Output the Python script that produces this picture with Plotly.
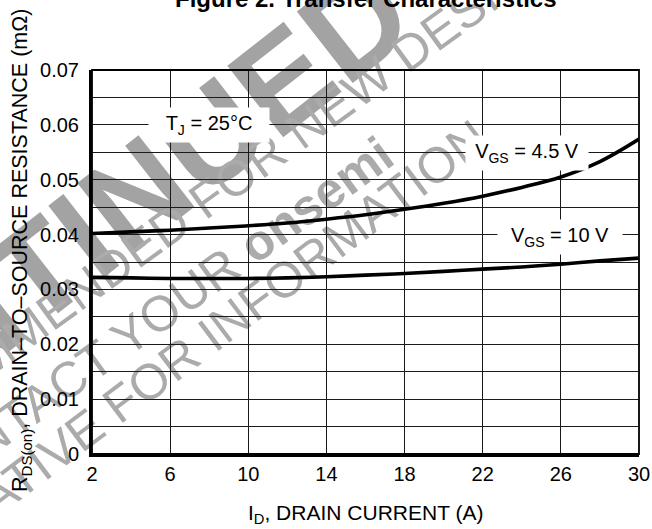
import math
import plotly.graph_objects as go

# ---------------- data ----------------
current_a = [2, 4, 6, 8, 10, 12, 14, 16, 18, 20, 22, 24, 26, 28, 30]
rds_vgs_4p5 = [0.0402, 0.0405, 0.0408, 0.0412, 0.0416, 0.0421, 0.0428, 0.0436,
               0.0446, 0.0457, 0.0470, 0.0486, 0.0505, 0.0533, 0.0574]
rds_vgs_10 = [0.0322, 0.0321, 0.0320, 0.0320, 0.0320, 0.0321, 0.0323, 0.0326,
              0.0329, 0.0333, 0.0337, 0.0341, 0.0346, 0.0352, 0.0357]

x_tick_start = 2
x_tick_step = 4
y_tick_vals = [0, 0.005, 0.01, 0.015, 0.02, 0.025, 0.03, 0.035,
               0.04, 0.045, 0.05, 0.055, 0.06, 0.065, 0.07]
y_tick_text = ["0", "", "0.01", "", "0.02", "", "0.03", "",
               "0.04", "", "0.05", "", "0.06", "", "0.07"]

title_text = "<b>Figure 2. Transfer Characteristics</b>"
x_title = "I<sub>D</sub>, DRAIN CURRENT (A)"
y_title = "R<sub>DS(on)</sub>, DRAIN\u2013TO\u2013SOURCE RESISTANCE (m\u03a9)"
label_tj = "T<sub>J</sub> = 25\u00b0C"
label_45 = "V<sub>GS</sub> = 4.5 V"
label_10 = "V<sub>GS</sub> = 10 V"

watermark_texts = ["<b>DISCONTINUED</b>",
                   "NOT RECOMMENDED FOR NEW DESIGNS",
                   "CONTACT YOUR <b>onsemi</b>",
                   "REPRESENTATIVE FOR INFORMATION"]

# ---------------- layout geometry ----------------
W, H = 652, 529
L, R, T, B = 92, 13, 70, 75
PW, PH = W - L - R, H - T - B
FONT = "Liberation Sans, Arial, Helvetica, sans-serif"


def px2x(px):
    return (px - L) / PW


def py2y(py):
    return (H - B - py) / PH


fig = go.Figure()
fig.add_trace(go.Scatter(x=current_a, y=rds_vgs_4p5, mode="lines",
                         line=dict(color="black", width=3.6, shape="spline"),
                         showlegend=False, hoverinfo="skip"))
fig.add_trace(go.Scatter(x=current_a, y=rds_vgs_10, mode="lines",
                         line=dict(color="black", width=3.6, shape="spline"),
                         showlegend=False, hoverinfo="skip"))

# ---------------- watermark (drawn below grid) ----------------
wm_specs = [((-11, 293), 38, 132, "#a3a3a3"),
            ((168, 221), 36, 50, "#ababab"),
            ((148, 316), 36, 50, "#ababab"),
            ((110, 405), 37, 50, "#ababab")]
shapes = []
for text, ((cx, cy), ang, size, col) in zip(watermark_texts, wm_specs):
    c, s = math.cos(math.radians(ang)), math.sin(math.radians(ang))
    d = 6
    shapes.append(dict(
        type="line", xref="paper", yref="paper", layer="below",
        x0=px2x(cx - d * c), y0=py2y(cy + d * s),
        x1=px2x(cx + d * c), y1=py2y(cy - d * s),
        line=dict(color="rgba(0,0,0,0)", width=0),
        label=dict(text=text, textangle=-ang, textposition="middle",
                   xanchor="center", yanchor="middle", padding=0,
                   font=dict(family=FONT, size=size, color=col)),
    ))

shapes.append(dict(type="rect", xref="paper", yref="paper", x0=0, y0=0, x1=1, y1=1,
                   line=dict(color="black", width=1.8), layer="above"))

annotations = [
    dict(text=title_text, xref="paper", yref="paper", x=0.5, y=py2y(14),
         xanchor="center", yanchor="bottom", showarrow=False,
         font=dict(family=FONT, size=24, color="black")),
    dict(text=x_title, xref="paper", yref="paper", x=0.5, y=py2y(514),
         xanchor="center", yanchor="middle", showarrow=False,
         font=dict(family=FONT, size=21, color="black")),
    dict(text=y_title, xref="paper", yref="paper", x=px2x(21), y=py2y(251),
         xanchor="center", yanchor="middle", showarrow=False, textangle=-90,
         font=dict(family=FONT, size=21.5, color="black")),
    dict(text=label_tj, xref="x", yref="y", x=8.0, y=0.0599, showarrow=False,
         width=118, height=32, bgcolor="white",
         font=dict(family=FONT, size=20, color="black")),
    dict(text=label_45, xref="x", yref="y", x=24.25, y=0.0548, showarrow=False,
         width=120, height=32, bgcolor="white",
         font=dict(family=FONT, size=20, color="black")),
    dict(text=label_10, xref="x", yref="y", x=25.95, y=0.0396, showarrow=False,
         width=122, height=32, bgcolor="white",
         font=dict(family=FONT, size=20, color="black")),
]

fig.update_layout(
    width=W, height=H, margin=dict(l=L, r=R, t=T, b=B, pad=0, autoexpand=False),
    paper_bgcolor="white", plot_bgcolor="white",
    font=dict(family=FONT, size=20, color="black"),
    shapes=shapes, annotations=annotations, showlegend=False,
    xaxis=dict(range=[2, 30], tickmode="linear", tick0=x_tick_start, dtick=x_tick_step,
               showgrid=True, gridcolor="#1a1a1a", gridwidth=1.2,
               showline=True, linecolor="black", linewidth=3, automargin=False,
               ticks="", zeroline=False,
               tickfont=dict(family=FONT, size=20, color="black")),
    yaxis=dict(range=[0, 0.07], tickmode="array", tickvals=y_tick_vals, ticktext=y_tick_text,
               showgrid=True, gridcolor="#1a1a1a", gridwidth=1.2,
               showline=True, linecolor="black", linewidth=3, automargin=False,
               ticks="", zeroline=False, ticklabelstandoff=6,
               tickfont=dict(family=FONT, size=20, color="black")),
)

fig.write_html("out.html", config={"displayModeBar": False},
               post_script="document.body.style.margin='0px';")
